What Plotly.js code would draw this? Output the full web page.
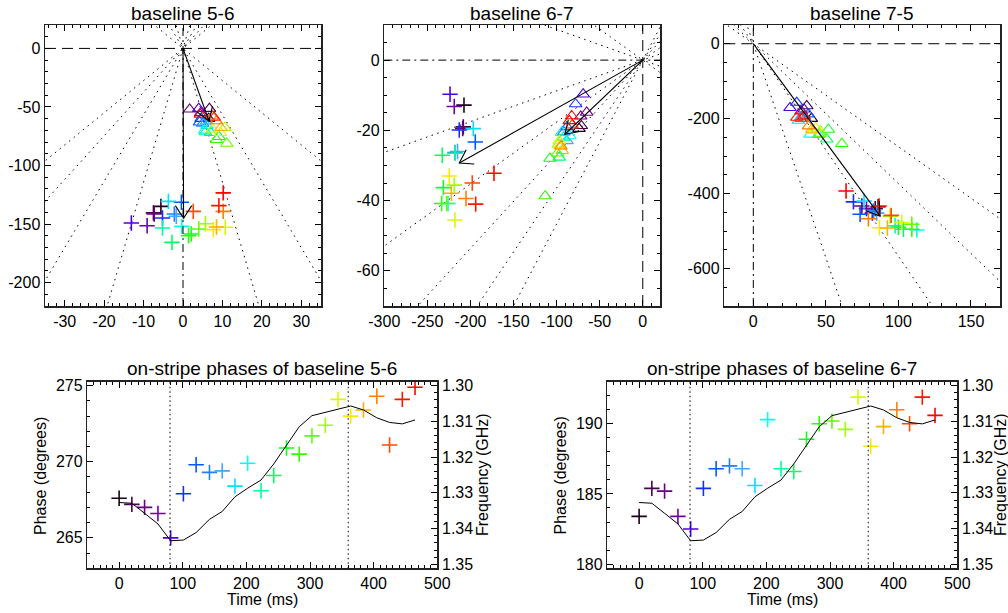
<!DOCTYPE html>
<html><head><meta charset="utf-8">
<script src="https://cdn.plot.ly/plotly-3.0.1.min.js"></script>
<style>html,body{margin:0;padding:0;background:#fff}#chart{width:1008px;height:613px}</style>
</head><body><div id="chart"></div>
<script>
// ---- data ----
const timeMs = [0,20,40,61,81,101,121,142,162,182,202,223,243,263,283,303,324,344,364,384,405,425,445,465];
const pointColors = ['#1a0018','#4a0050','#680080','#7000a8','#5000e0','#1030ff','#0058ff','#2080ff','#40a8ff','#00e0ff','#00fff0','#00ffa0','#00ff60','#10ff20','#30ff00','#60ff00','#a0ff00','#d8f800','#ffe800','#ffb000','#ff8000','#ff4800','#ff1800','#ff0000'];
const phase56 = [267.6,267.2,267.0,266.6,265.0,267.9,269.8,269.3,269.4,268.4,269.9,268.1,269.1,270.9,270.5,271.7,272.4,274.1,273.0,273.4,274.3,271.1,274.1,274.9];
const phase67 = [183.4,185.4,185.2,183.4,182.5,185.4,186.8,187.0,186.8,185.6,190.3,186.8,186.6,188.9,190.0,190.2,189.6,191.9,188.4,189.8,191.0,190.0,191.9,190.6];
const freqGHz = [1.3327,1.3329,1.3357,1.3387,1.3434,1.3432,1.3411,1.3374,1.3352,1.3311,1.3287,1.3264,1.3219,1.3166,1.3115,1.3084,1.3075,1.3066,1.3057,1.3068,1.3090,1.3103,1.3107,1.3096];
const stripeTimes = [80, 360];

const cross56X = [-5.6,-7.5,-7.3,-9.1,-13.1,-5.2,-0.4,-2.2,-1.7,-3.7,-0.3,-5.2,-2.8,2.1,1.4,4.0,5.7,10.7,7.7,8.5,10.2,2.6,9.1,10.2];
const cross56Y = [-134.9,-140.5,-141.4,-151.4,-149.1,-144.8,-131.4,-141.4,-143.4,-130.6,-152,-153.4,-165.7,-158.5,-160,-154.2,-149.7,-152.8,-154.8,-152.5,-139.2,-139.2,-134.3,-123.4];
const tri56X = [6.5,6.7,1.7,4.5,4.0,4.6,4.2,5.0,6.0,6.1,5.5,5.7,7.0,9.1,8.5,11.1,10.6,7.5,9.5,9.6,8.5,7.5,7.9,4.4];
const tri56Y = [-60,-51.4,-52,-55,-51.4,-60,-63,-64,-62,-66,-70,-71.4,-72,-75.4,-78,-81.2,-67.7,-69,-72,-67.7,-62,-58,-59,-56.3];

const cross67X = [-207.5,-208.3,-209,-218.8,-223.7,-213,-194.4,-218,-215,-196.7,-226,-218,-232.7,-231.5,-233.4,-227.6,-218.8,-218,-224.6,-222.2,-205.2,-197.9,-193.9,-172.7];
const cross67Y = [-12.8,-19,-19.5,-13.2,-9.7,-19.9,-23.3,-26.3,-26,-19.5,-40.8,-26.5,-27.1,-36.3,-40.8,-40.8,-35.6,-45.5,-33,-37.9,-39.4,-35,-41,-32.2];
const tri67X = [-74,-71.3,-72,-65.1,-69.1,-77.9,-88,-91.6,-88,-94.1,-84.5,-92,-96.9,-107.7,-113.3,-99,-98,-97,-96.1,-93.4,-95,-82,-82.5,-85.2];
const tri67Y = [-19.5,-18.7,-16,-14.9,-9.7,-12.5,-19,-20.5,-23,-20.6,-21.6,-22,-27.7,-28,-38.7,-26.5,-24,-23,-24.4,-25.8,-24.5,-18.5,-15.9,-17.3];

const cross75X = [86,84,74.8,78,82,69,73.6,82.8,85,76.3,112.7,97.7,103.4,100,109.2,109.2,94.3,102.3,86.9,92.4,79.3,95,86.7,63.9];
const cross75Y = [-435,-440,-433,-440,-452,-422,-455,-446,-452,-420,-497,-486,-495,-490,-495,-482,-460,-477,-491,-492,-467,-458,-433,-393];
const tri75X = [40,36.8,35,33,25.3,29.9,37.9,33,36,31,39.1,45,50.6,51.7,61,46,46.2,43,41,40.3,38,33,29.9,35];
const tri75Y = [-200,-166,-175,-180,-171,-157,-188,-195,-200,-205,-242,-243,-255,-229,-267,-240,-233,-225,-232,-229,-220,-200,-197,-193];

const fan56 = [250,255,260,265,275,280,290];
const fan67 = [170,175,185,190,195,200,205];
const fan75 = [275,280,285,290];

const arrow56X = [6.6, 0.15], arrow56Y = [-62, -145];
const arrow67X = [-90.4, -213], arrow67Y = [-21.1, -29.3];
const arrow75X = [87.4], arrow75Y = [-460];

const ticks56X = [-30,-20,-10,0,10,20,30], ticks56Y = [0,-50,-100,-150,-200];
const ticks67X = [-300,-250,-200,-150,-100,-50,0], ticks67Y = [0,-20,-40,-60];
const ticks75X = [0,50,100,150], ticks75Y = [0,-200,-400,-600];
const ticksTime = [0,100,200,300,400,500];
const ticksPh56 = [265,270,275], ticksPh67 = [180,185,190];
const ticksFreq = [1.30,1.31,1.32,1.33,1.34,1.35];

// ---- geometry of the page ----
const W = 1008, H = 613;
const px = v => v / W, py = v => 1 - v / H;
const dom = {
  x1:[px(45),px(321)], x2:[px(384.3),px(660)], x3:[px(724.3),px(1000)],
  x4:[px(87.3),px(437.3)], x5:[px(607.3),px(957.3)],
  top:[py(306), py(25)], bot:[py(568.3), py(381.7)]
};
const rng = {
  x1:[-35,35], y1:[-220,20], x2:[-300,20], y2:[-70,10], x3:[-20,170], y3:[-700,50],
  t:[-50,500], p56:[263,275.26], p67:[179.7,193.0], f:[1.3511,1.2989]
};

// ---- helpers ----
const FONT = 'Liberation Sans, Arial, Helvetica, sans-serif';
function fanTrace(angles, xa, ya) {
  const R = 5000, xs = [], ys = [];
  angles.forEach(a => { const r = a * Math.PI / 180;
    xs.push(R * Math.cos(r), -R * Math.cos(r), null);
    ys.push(R * Math.sin(r), -R * Math.sin(r), null); });
  return {type:'scatter', mode:'lines', x:xs, y:ys, xaxis:xa, yaxis:ya,
    line:{color:'#000', width:1, dash:'1.5px,4.5px'}, hoverinfo:'skip', showlegend:false};
}
function markTrace(x, y, xa, ya, kind) {
  const cross = kind === 'cross';
  return {type:'scatter', mode:'markers', x, y, xaxis:xa, yaxis:ya, showlegend:false,
    marker:{symbol: cross ? 'cross-thin-open' : 'triangle-up-open', size: 11,
      color: pointColors, line:{width: cross ? 1.6 : 1.1, color: pointColors}}};
}
// arrows from the origin to each tip, with open V heads sized in screen pixels
function arrowTrace(tipsX, tipsY, xa, ya, xDom, yDom, xr, yr) {
  const sx = (xDom[1]-xDom[0]) * W / (xr[1]-xr[0]);
  const sy = (yDom[1]-yDom[0]) * H / (yr[1]-yr[0]);
  const L = 15, th = 33 * Math.PI / 180;
  const xs = [], ys = [];
  tipsX.forEach((tx, i) => {
    const ty = tipsY[i];
    xs.push(0, tx, null); ys.push(0, ty, null);
    let bx = -tx * sx, by = ty * sy; const n = Math.hypot(bx, by); bx /= n; by /= n;
    [th, -th].forEach((a, k) => {
      const rx = bx * Math.cos(a) - by * Math.sin(a), ry = bx * Math.sin(a) + by * Math.cos(a);
      const ex = tx + L * rx / sx, ey = ty - L * ry / sy;
      if (k === 0) { xs.push(ex, tx); ys.push(ey, ty); } else { xs.push(ex, null); ys.push(ey, null); }
    });
  });
  return {type:'scatter', mode:'lines', x:xs, y:ys, xaxis:xa, yaxis:ya,
    line:{color:'#000', width:1.1}, hoverinfo:'skip', showlegend:false};
}
function axis(domain, anchor, range, tickvals, minorDtick, extra) {
  return Object.assign({domain, anchor, range, tickmode:'array', tickvals,
    ticktext: tickvals.map(v => String(v)), ticks:'inside', ticklen:6, tickwidth:1, tickcolor:'#000',
    showline:true, linecolor:'#222', linewidth:1.5, mirror:'ticks', showgrid:false, zeroline:false,
    tickfont:{size:16, color:'#000', family:FONT},
    minor:{ticks:'inside', ticklen:3, tickwidth:1, tickcolor:'#000', tickmode:'linear', tick0:0, dtick:minorDtick, showgrid:false},
    fixedrange:true}, extra || {});
}

const traces = [
  fanTrace(fan56,'x','y'), markTrace(tri56X,tri56Y,'x','y','tri'), markTrace(cross56X,cross56Y,'x','y','cross'),
  arrowTrace(arrow56X, arrow56Y, 'x','y', dom.x1, dom.top, rng.x1, rng.y1),
  fanTrace(fan67,'x2','y2'), markTrace(tri67X,tri67Y,'x2','y2','tri'), markTrace(cross67X,cross67Y,'x2','y2','cross'),
  arrowTrace(arrow67X, arrow67Y, 'x2','y2', dom.x2, dom.top, rng.x2, rng.y2),
  fanTrace(fan75,'x3','y3'), markTrace(tri75X,tri75Y,'x3','y3','tri'), markTrace(cross75X,cross75Y,'x3','y3','cross'),
  arrowTrace(arrow75X, arrow75Y, 'x3','y3', dom.x3, dom.top, rng.x3, rng.y3),
  markTrace(timeMs, phase56, 'x4','y4','cross'),
  {type:'scatter', mode:'lines', x:timeMs, y:freqGHz, xaxis:'x4', yaxis:'y5', line:{color:'#000', width:1}, showlegend:false},
  markTrace(timeMs, phase67, 'x5','y6','cross'),
  {type:'scatter', mode:'lines', x:timeMs, y:freqGHz, xaxis:'x5', yaxis:'y7', line:{color:'#000', width:1}, showlegend:false}
];

const layout = {
  width: W, height: H, margin:{l:0,r:0,t:0,b:0}, paper_bgcolor:'#fff', plot_bgcolor:'#fff',
  font:{family:FONT, color:'#000', size:16}, showlegend:false,
  xaxis: axis(dom.x1, 'y', rng.x1, ticks56X, 2),
  yaxis: axis(dom.top, 'x', rng.y1, ticks56Y, 10),
  xaxis2: axis(dom.x2, 'y2', rng.x2, ticks67X, 10),
  yaxis2: axis(dom.top, 'x2', rng.y2, ticks67Y, 5),
  xaxis3: axis(dom.x3, 'y3', rng.x3, ticks75X, 10),
  yaxis3: axis(dom.top, 'x3', rng.y3, ticks75Y, 50),
  xaxis4: axis(dom.x4, 'y4', rng.t, ticksTime, 10),
  yaxis4: axis(dom.bot, 'x4', rng.p56, ticksPh56, 1, {mirror:false}),
  yaxis5: axis(dom.bot, 'x4', rng.f, ticksFreq, 0.002, {overlaying:'y4', side:'right', mirror:false, ticktext: ticksFreq.map(v=>v.toFixed(2))}),
  xaxis5: axis(dom.x5, 'y6', rng.t, ticksTime, 10),
  yaxis6: axis(dom.bot, 'x5', rng.p67, ticksPh67, 1, {mirror:false}),
  yaxis7: axis(dom.bot, 'x5', rng.f, ticksFreq, 0.002, {overlaying:'y6', side:'right', mirror:false, ticktext: ticksFreq.map(v=>v.toFixed(2))}),
  shapes: [], annotations: []
};

const DASH = '11px,6px', DASHDOT = '8px,4px,2px,4px';
function hline(xa, ya, dash) { return {type:'line', xref:xa+' domain', x0:0, x1:1, yref:ya, y0:0, y1:0, line:{color:'#000', width:1, dash}, layer:'above'}; }
function vline(xa, ya, dash, x) { return {type:'line', xref:xa, x0:x, x1:x, yref:ya+' domain', y0:0, y1:1, line:{color:'#000', width:1, dash}, layer:'above'}; }
layout.shapes.push(hline('x','y',DASH), vline('x','y',DASHDOT,0));
layout.shapes.push(hline('x2','y2',DASHDOT), vline('x2','y2',DASH,0));
layout.shapes.push(hline('x3','y3',DASH), vline('x3','y3',DASHDOT,0));
stripeTimes.forEach(t => { layout.shapes.push(vline('x4','y4','1.5px,3px',t)); layout.shapes.push(vline('x5','y6','1.5px,3px',t)); });

function label(text, x, y, size, angle) {
  layout.annotations.push({text, x:px(x), y:py(y), xref:'paper', yref:'paper', showarrow:false,
    xanchor:'center', yanchor:'middle', textangle: angle || 0, font:{size, color:'#000', family:FONT}});
}
label('baseline 5-6', 183, 13, 19);
label('baseline 6-7', 522, 13, 19);
label('baseline 7-5', 862, 13, 19);
label('on-stripe phases of baseline 5-6', 262.3, 368, 19);
label('on-stripe phases of baseline 6-7', 782.3, 368, 19);
label('Phase (degrees)', 40, 476, 16, -90);
label('Frequency (GHz)', 482, 475, 16, -90);
label('Time (ms)', 262.3, 599.5, 16);
label('Phase (degrees)', 559.5, 476, 16, -90);
label('Frequency (GHz)', 1000, 475, 16, -90);
label('Time (ms)', 782.3, 599.5, 16);

Plotly.newPlot('chart', traces, layout, {displayModeBar:false, staticPlot:true});
</script></body></html>
